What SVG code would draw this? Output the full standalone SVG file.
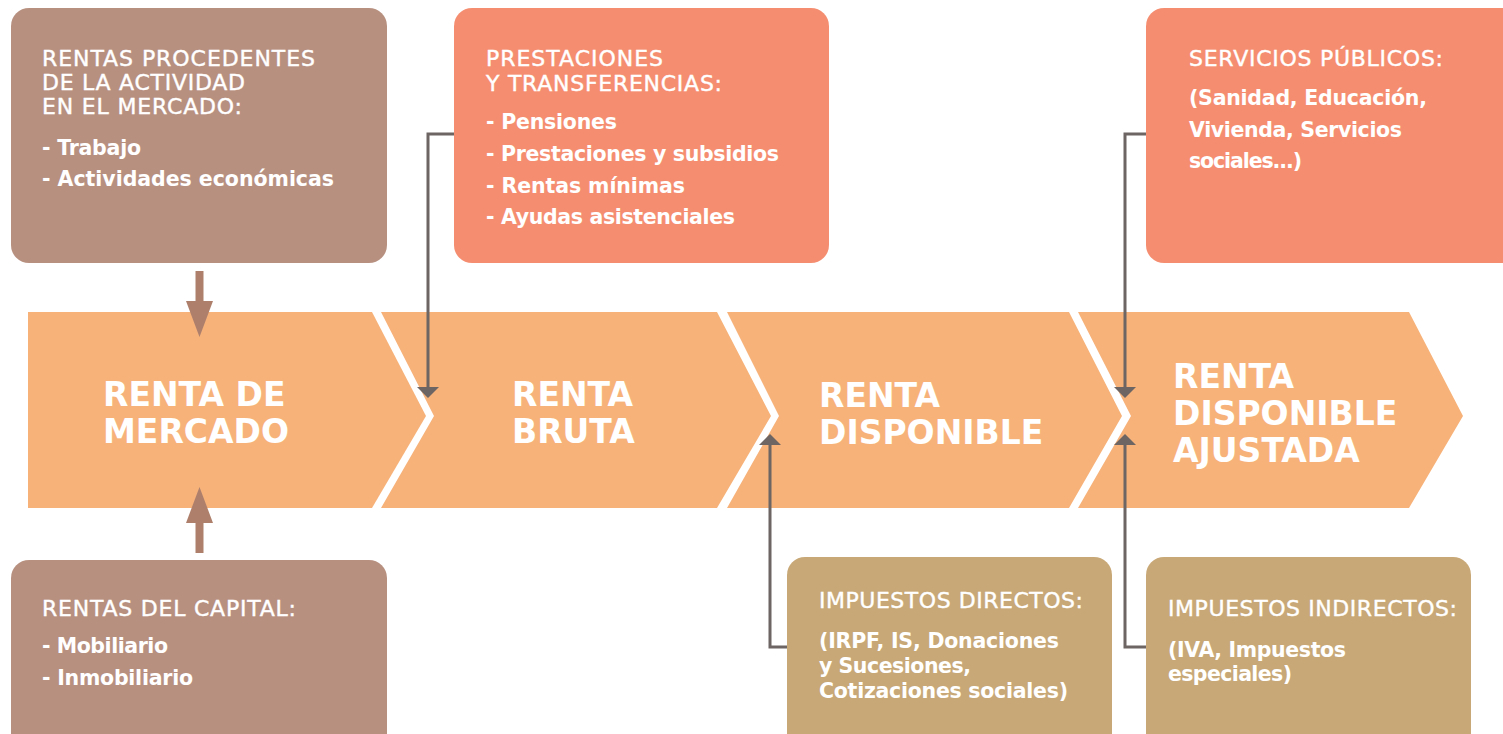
<svg xmlns="http://www.w3.org/2000/svg" width="1503" height="734" viewBox="0 0 1503 734">
<style>
.brown{fill:#b89080}
.salmon{fill:#f58e70}
.tan{fill:#c8a876}
.chev{fill:#f7b27a}
.big{font-family:"DejaVu Sans",sans-serif;font-weight:bold;font-size:33px;fill:#fff}
.h{font-family:"DejaVu Sans",sans-serif;font-size:22px;fill:#fff;stroke:#fff;stroke-width:0.4px}
.b{font-family:"DejaVu Sans",sans-serif;font-weight:bold;font-size:20.5px;fill:#fff}
.conn{fill:none;stroke:#6c6563;stroke-width:3}
.barrow{fill:#ae806c}
</style>
<defs>
<marker id="ah" viewBox="0 0 11 22" refX="1" refY="11" markerWidth="11" markerHeight="22" markerUnits="userSpaceOnUse" orient="auto">
<path d="M0,0 L11,11 L0,22 z" fill="#6c6563"/>
</marker>
</defs>
<rect width="1503" height="734" fill="#fff"/>

<g id="renta-mercado">
<polygon class="chev" points="28,312 372,312 426,416 372,508 28,508"/>
<text class="big" x="103" y="406">RENTA DE</text>
<text class="big" x="103" y="443">MERCADO</text>
</g>
<g id="renta-bruta">
<polygon class="chev" points="381,312 717,312 771,416 717,508 381,508 434,416"/>
<text class="big" x="512" y="406">RENTA</text>
<text class="big" x="512" y="443">BRUTA</text>
</g>
<g id="renta-disponible">
<polygon class="chev" points="727,312 1069,312 1122,416 1069,508 727,508 779,416"/>
<text class="big" x="819" y="407">RENTA</text>
<text class="big" x="819" y="444">DISPONIBLE</text>
</g>
<g id="renta-disponible-ajustada">
<polygon class="chev" points="1078,312 1409,312 1463,416 1409,508 1078,508 1131,416"/>
<text class="big" x="1173" y="388">RENTA</text>
<text class="big" x="1173" y="425">DISPONIBLE</text>
<text class="big" x="1173" y="462">AJUSTADA</text>
</g>

<g id="rentas-mercado">
<rect class="brown" x="11" y="8" width="376" height="255" rx="18"/>
<text class="h" x="42" y="66" textLength="273">RENTAS PROCEDENTES</text>
<text class="h" x="42" y="90" textLength="203">DE LA ACTIVIDAD</text>
<text class="h" x="42" y="114" textLength="200">EN EL MERCADO:</text>
<text class="b" x="42" y="155" textLength="99">- Trabajo</text>
<text class="b" x="42" y="186" textLength="292">- Actividades económicas</text>
</g>

<g id="prestaciones">
<rect class="salmon" x="454" y="8" width="375" height="255" rx="18"/>
<text class="h" x="486" y="66" textLength="177">PRESTACIONES</text>
<text class="h" x="486" y="91" textLength="236">Y TRANSFERENCIAS:</text>
<text class="b" x="486" y="129" textLength="131">- Pensiones</text>
<text class="b" x="486" y="161" textLength="293">- Prestaciones y subsidios</text>
<text class="b" x="486" y="193" textLength="199">- Rentas mínimas</text>
<text class="b" x="486" y="224" textLength="249">- Ayudas asistenciales</text>
</g>

<g id="servicios-publicos">
<rect class="salmon" x="1146" y="8" width="380" height="255" rx="18"/>
<text class="h" x="1189" y="66" textLength="254">SERVICIOS PÚBLICOS:</text>
<text class="b" x="1189" y="105" textLength="238">(Sanidad, Educación,</text>
<text class="b" x="1189" y="137" textLength="213">Vivienda, Servicios</text>
<text class="b" x="1189" y="168" textLength="113">sociales...)</text>
</g>

<g id="rentas-capital">
<rect class="brown" x="11" y="560" width="376" height="200" rx="18"/>
<text class="h" x="42" y="616" textLength="254">RENTAS DEL CAPITAL:</text>
<text class="b" x="42" y="653" textLength="126">- Mobiliario</text>
<text class="b" x="42" y="685" textLength="151">- Inmobiliario</text>
</g>

<g id="impuestos-directos">
<rect class="tan" x="787" y="557" width="325" height="200" rx="18"/>
<text class="h" x="819" y="608" textLength="264">IMPUESTOS DIRECTOS:</text>
<text class="b" x="819" y="648" textLength="240">(IRPF, IS, Donaciones</text>
<text class="b" x="819" y="673" textLength="152">y Sucesiones,</text>
<text class="b" x="819" y="698" textLength="249">Cotizaciones sociales)</text>
</g>

<g id="impuestos-indirectos">
<rect class="tan" x="1146" y="557" width="325" height="200" rx="18"/>
<text class="h" x="1168" y="616" textLength="289">IMPUESTOS INDIRECTOS:</text>
<text class="b" x="1168" y="657" textLength="178">(IVA, Impuestos</text>
<text class="b" x="1168" y="681" textLength="124">especiales)</text>
</g>

<g id="connectors">
<path class="conn" d="M454,134 H428 V388" marker-end="url(#ah)"/>
<path class="conn" d="M1146,134 H1125 V388" marker-end="url(#ah)"/>
<path class="conn" d="M787,647 H770 V444" marker-end="url(#ah)"/>
<path class="conn" d="M1146,647 H1125 V444" marker-end="url(#ah)"/>
<path class="barrow" d="M195.5,271 H203.5 V301 H213 L199.5,337 L186,301 H195.5 Z"/>
<path class="barrow" d="M195.5,553 H203.5 V523 H213 L199.5,487 L186,523 H195.5 Z"/>
</g>
</svg>
